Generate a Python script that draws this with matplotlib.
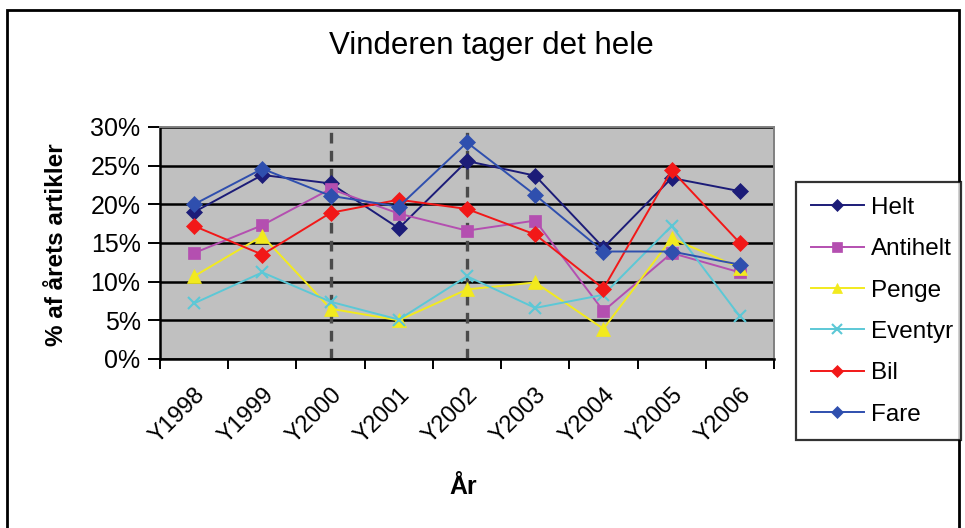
import matplotlib
matplotlib.use("Agg")
import matplotlib.pyplot as plt
from matplotlib.patches import Rectangle
from matplotlib.ticker import FixedLocator, PercentFormatter

plt.rcParams['font.family'] = ['Liberation Sans', 'DejaVu Sans']

years = ["Y1998", "Y1999", "Y2000", "Y2001", "Y2002", "Y2003", "Y2004", "Y2005", "Y2006"]
helt = [19.0, 23.8, 22.7, 16.9, 25.6, 23.7, 14.4, 23.4, 21.7]
antihelt = [13.7, 17.3, 22.0, 18.8, 16.6, 17.9, 6.2, 13.7, 11.2]
penge = [10.7, 15.9, 6.5, 5.0, 9.0, 9.9, 3.9, 15.6, 11.8]
eventyr = [7.2, 11.2, 7.4, 5.1, 10.7, 6.6, 8.3, 17.2, 5.5]
bil = [17.2, 13.5, 18.9, 20.6, 19.4, 16.1, 9.1, 24.4, 15.0]
fare = [20.0, 24.6, 21.1, 19.7, 28.0, 21.2, 13.9, 13.9, 12.2]
yticks = [0, 5, 10, 15, 20, 25, 30]
marked_years = ["Y2000", "Y2002"]

W, H = 965, 528
fig = plt.figure(figsize=(W / 100, H / 100), dpi=100)
fig.patch.set_facecolor("white")
ax = fig.add_axes([160 / W, 1 - 359 / H, (774 - 160) / W, (359 - 127) / H])
ax.set_facecolor("#C0C0C0")

x = list(range(len(years)))
series = [
    ("Helt", helt, "#1C1C78", "D", 8),
    ("Antihelt", antihelt, "#B44FB0", "s", 8),
    ("Penge", penge, "#F2EA1E", "^", 10),
    ("Eventyr", eventyr, "#5CC8D6", "x", 8.5),
    ("Bil", bil, "#F21818", "D", 8),
    ("Fare", fare, "#2F4FAE", "D", 8),
]

for yv in yticks:
    ax.axhline(yv, color="black", lw=1.8, zorder=1)

for yr in marked_years:
    ax.axvline(years.index(yr), color="#4A4A4A", lw=2.4, ls=(0, (3.2, 2.2)), zorder=2)

for name, vals, col, mk, ms in series:
    ax.plot(x, vals, color=col, marker=mk, markersize=ms, lw=1.4, label=name, zorder=3,
            markeredgewidth=1.5 if mk == "x" else 0.5, markeredgecolor=col)

ax.set_xlim(-0.5, len(years) - 0.5)
ax.set_ylim(0, 30)
ax.yaxis.set_major_locator(FixedLocator(yticks))
ax.yaxis.set_major_formatter(PercentFormatter(decimals=0))
ax.set_xticks(x)
ax.set_xticklabels(years, rotation=45, ha="right", va="top", rotation_mode="anchor", fontsize=17)
ax.tick_params(axis="x", which="major", length=0, pad=18)
ax.set_xticks([i - 0.5 for i in range(len(years) + 1)], minor=True)
ax.tick_params(axis="x", which="minor", length=7, width=1.4, direction="out", color="black")
ax.tick_params(axis="y", which="major", length=9, width=1.4, direction="out", labelsize=18, pad=5)

for s in ["left", "bottom"]:
    ax.spines[s].set_color("black")
    ax.spines[s].set_linewidth(1.8)
for s in ["top", "right"]:
    ax.spines[s].set_color("#808080")
    ax.spines[s].set_linewidth(1.4)

fig.text(463 / W, 1 - 487 / H, "År", ha="center", va="center", fontsize=18, fontweight="bold")
fig.text(57 / W, 1 - 245 / H, "% af årets artikler", ha="center", va="center", rotation=90,
         fontsize=17.5, fontweight="bold")
fig.text(491 / W, 1 - 46 / H, "Vinderen tager det hele", ha="center", va="center", fontsize=22.5)

leg = fig.legend(loc="upper left", bbox_to_anchor=(796 / W, 1 - 435 / H, (961 - 796) / W, (435 - 182) / H),
                 mode="expand", frameon=True, fancybox=False, fontsize=17.5, handlelength=2.2,
                 labelspacing=0.8, borderpad=0.6, handletextpad=0.3, borderaxespad=0)
leg.get_frame().set_edgecolor("black")
leg.get_frame().set_linewidth(1.6)
for h in leg.legend_handles:
    h.set_markersize(6.5)

fig.patches.append(Rectangle((7 / W, -0.01), (959 - 7) / W, 1 - 10 / H + 0.01, transform=fig.transFigure,
                             fill=False, edgecolor="black", lw=2))

fig.savefig("out.png", dpi=100)
